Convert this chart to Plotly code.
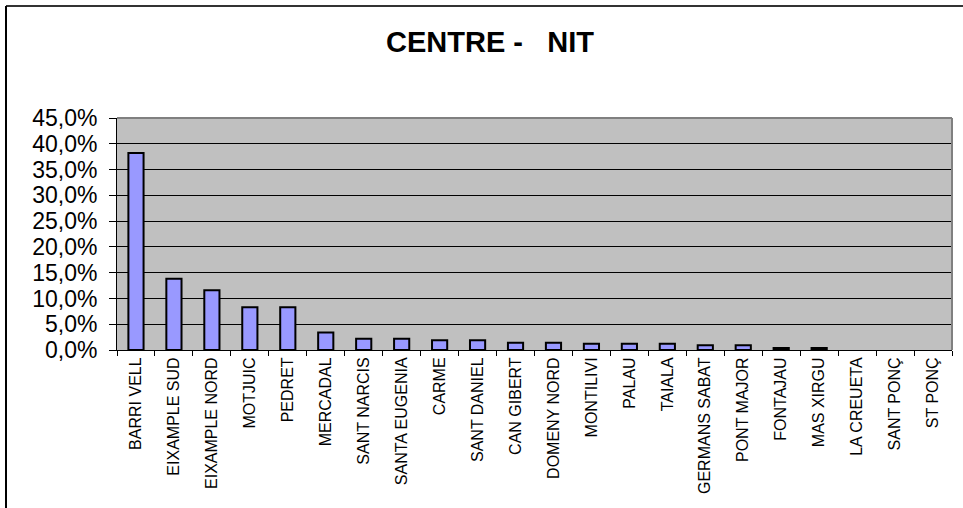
import plotly.graph_objects as go

# barris i percentatges (CENTRE - NIT)
barris = ["BARRI VELL", "EIXAMPLE SUD", "EIXAMPLE NORD", "MOTJUIC", "PEDRET",
          "MERCADAL", "SANT NARCIS", "SANTA EUGENIA", "CARME", "SANT DANIEL",
          "CAN GIBERT", "DOMENY NORD", "MONTILIVI", "PALAU", "TAIALA",
          "GERMANS SABAT", "PONT MAJOR", "FONTAJAU", "MAS XIRGU", "LA CREUETA",
          "SANT PONÇ", "ST PONÇ"]
percentatge = [0.382, 0.138, 0.116, 0.083, 0.083,
               0.034, 0.022, 0.022, 0.019, 0.019,
               0.014, 0.014, 0.012, 0.012, 0.012,
               0.009, 0.009, 0.004, 0.004, 0.0,
               0.0, 0.0]
y_ticks = [0, 0.05, 0.10, 0.15, 0.20, 0.25, 0.30, 0.35, 0.40, 0.45]

W, H = 963, 508
L, R, T, B = 117, 11, 118, 158
pw, ph = W - L - R, H - T - B

fig = go.Figure()
# barres buides (0%) sense contorn
contorn = [2 if v > 0 else 0 for v in percentatge]
fig.add_bar(x=barris, y=percentatge, marker_color="#9999FF",
            marker_line_color="black", marker_line_width=contorn)

# marc exterior (superior i esquerre) en pixels -> paper
x0 = (6 - L) / pw
ytop = (H - B - 6) / ph
ybot = (H - B - H) / ph
fig.add_shape(type="line", xref="paper", yref="paper", x0=x0, x1=(W - L) / pw,
              y0=ytop, y1=ytop, line=dict(color="#333333", width=2))
fig.add_shape(type="line", xref="paper", yref="paper", x0=x0, x1=x0,
              y0=ytop, y1=ybot, line=dict(color="black", width=2))
# vora gris de l'area de dibuix
fig.add_shape(type="line", xref="paper", yref="paper", x0=0, x1=1, y0=1, y1=1,
              line=dict(color="#808080", width=2))
fig.add_shape(type="line", xref="paper", yref="paper", x0=1, x1=1, y0=0, y1=1,
              line=dict(color="#808080", width=2))

fig.update_layout(
    width=W, height=H,
    margin=dict(l=L, r=R, t=T, b=B),
    paper_bgcolor="white", plot_bgcolor="#C0C0C0",
    separators=",.",
    showlegend=False,
    bargap=0.6,
    font=dict(family="Liberation Sans, Arial, sans-serif", color="black"),
    title=dict(text="<b>CENTRE -   NIT</b>", x=490 / W, xanchor="center",
               y=1 - 42 / H, yanchor="middle",
               font=dict(size=29, color="black")),
)
fig.update_xaxes(type="category", tickangle=-90, tickson="boundaries",
                 ticks="outside", ticklen=5, tickcolor="black",
                 showline=True, linecolor="black", linewidth=1,
                 showgrid=False, tickfont=dict(size=16))
fig.update_yaxes(range=[0, 0.45], tickvals=y_ticks, tickformat=".1%",
                 ticks="outside", ticklen=7, tickcolor="black",
                 ticklabelstandoff=7,
                 showline=True, linecolor="black", linewidth=1,
                 showgrid=True, gridcolor="black", gridwidth=1,
                 zeroline=False, tickfont=dict(size=23))

# sense marge del body perque el grafic comenci a (0,0)
fig.write_html("out.html", config={"displayModeBar": False},
               post_script="document.body.style.margin='0';")
